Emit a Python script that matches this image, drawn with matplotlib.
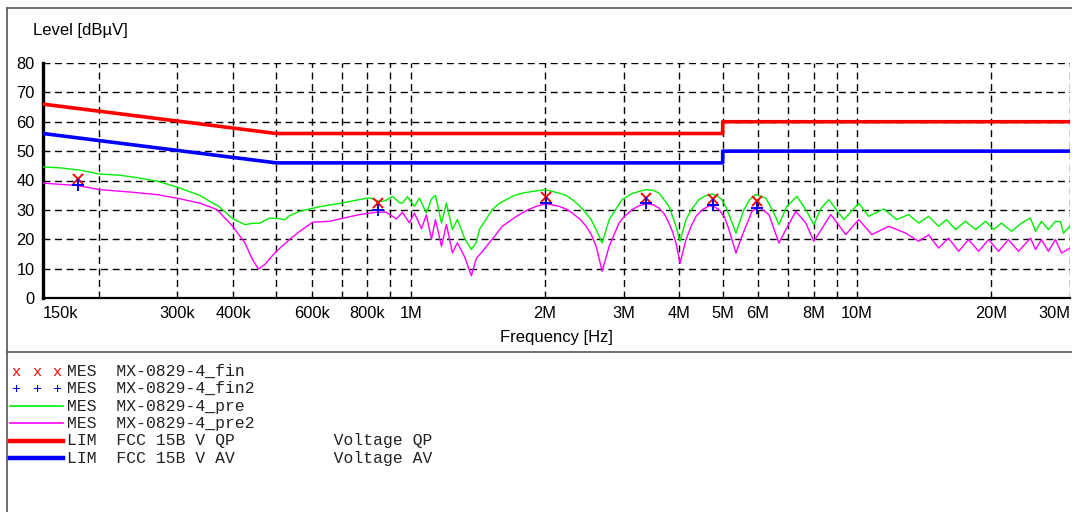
import numpy as np
import matplotlib
matplotlib.use("Agg")
import matplotlib.pyplot as plt
from matplotlib.lines import Line2D

# Data (frequency in MHz, level in dBuV)
pre_f = [0.150, 0.164, 0.182, 0.201, 0.223, 0.243, 0.270, 0.299, 0.337, 0.373,
         0.399, 0.425, 0.442, 0.459, 0.483, 0.509, 0.522, 0.535, 0.564, 0.625,
         0.693, 0.768, 0.808, 0.851, 0.873, 0.910, 0.943, 0.958, 0.983, 1.019,
         1.046, 1.084, 1.113, 1.136, 1.172, 1.202, 1.240, 1.272, 1.319, 1.367,
         1.403, 1.425, 1.523, 1.58, 1.637, 1.70, 1.778, 1.88, 2.002, 2.151,
         2.23, 2.301, 2.38, 2.472, 2.54, 2.603, 2.684, 2.784, 2.976, 3.134,
         3.367, 3.5, 3.601, 3.791, 3.930, 4.012, 4.138, 4.25, 4.425, 4.58,
         4.733, 4.86, 4.982, 5.10, 5.218, 5.354, 5.578, 5.75, 5.934, 6.249,
         6.513, 6.683, 6.963, 7.331, 7.679, 8.002, 8.30, 8.643, 9.341, 10.09,
         10.62, 11.48, 12.27, 13.05, 13.74, 14.47, 15.23, 15.87, 16.62, 17.50,
         18.43, 19.41, 20.23, 21.07, 22.18, 23.36, 24.47, 25.11, 25.89, 26.84,
         27.83, 28.56, 29.01, 30.0]
pre_db = [44.6, 44.3, 43.5, 42.2, 41.8, 41.0, 39.8, 37.8, 34.9, 31.0,
          27.0, 25.0, 25.4, 25.5, 27.2, 27.0, 26.6, 28.0, 29.5, 31.1,
          32.2, 33.5, 34.1, 32.9, 33.0, 34.6, 32.5, 32.3, 34.5, 31.2,
          34.0, 28.9, 33.7, 35.0, 25.5, 32.3, 23.3, 26.7, 20.5, 16.5,
          19.0, 23.3, 30.1, 32.2, 33.5, 34.8, 35.7, 36.3, 36.9, 35.7,
          34.9, 33.5, 31.6, 28.9, 26.5, 23.3, 18.7, 26.7, 33.5, 35.6,
          36.9, 36.6, 35.7, 31.2, 24.4, 19.3, 26.7, 30.0, 33.5, 34.8,
          35.4, 34.8, 33.5, 30.5, 26.7, 22.1, 30.1, 33.5, 35.2, 34.0,
          28.9, 25.0, 31.2, 34.6, 30.0, 25.0, 30.5, 33.5, 26.7, 32.3,
          27.8, 30.3, 26.7, 28.4, 25.5, 27.8, 24.4, 26.7, 23.3, 26.1,
          23.3, 26.1, 23.3, 25.5, 22.7, 25.5, 27.2, 22.7, 26.1, 23.3,
          26.1, 26.0, 22.1, 24.4]

pre2_f = [0.150, 0.179, 0.201, 0.238, 0.270, 0.299, 0.337, 0.368, 0.399, 0.425,
          0.442, 0.456, 0.471, 0.496, 0.535, 0.564, 0.603, 0.658, 0.693, 0.768,
          0.838, 0.882, 0.929, 0.958, 0.993, 1.019, 1.057, 1.084, 1.113, 1.136,
          1.172, 1.202, 1.240, 1.272, 1.319, 1.367, 1.403, 1.450, 1.500, 1.55,
          1.604, 1.68, 1.751, 1.83, 1.911, 2.012, 2.151, 2.23, 2.301, 2.40,
          2.472, 2.54, 2.603, 2.684, 2.784, 2.931, 3.0, 3.134, 3.25, 3.367,
          3.5, 3.601, 3.70, 3.791, 3.86, 3.930, 4.012, 4.138, 4.25, 4.358,
          4.5, 4.660, 4.78, 4.906, 5.05, 5.164, 5.354, 5.521, 5.814, 6.027,
          6.347, 6.683, 6.927, 7.293, 7.679, 8.002, 8.733, 9.437, 10.09, 10.79,
          11.78, 12.85, 13.74, 14.47, 15.23, 16.03, 16.89, 17.78, 18.72, 19.71,
          20.75, 21.84, 23.00, 24.47, 25.11, 25.89, 26.84, 27.83, 28.71, 30.0]
pre2_db = [39.1, 38.3, 36.9, 36.0, 35.2, 34.0, 32.3, 30.1, 24.4, 18.8,
           13.1, 9.9, 11.4, 15.4, 19.9, 22.7, 25.8, 26.1, 26.9, 28.4,
           29.2, 29.2, 26.9, 29.2, 25.6, 28.9, 23.6, 28.3, 20.0, 26.7,
           17.6, 25.0, 15.4, 18.8, 14.2, 7.6, 13.5, 16.0, 18.8, 21.5,
           24.4, 26.6, 28.4, 30.0, 31.2, 32.1, 31.2, 30.3, 28.9, 26.7,
           24.4, 21.5, 17.6, 9.1, 17.6, 25.6, 27.5, 30.1, 31.4, 32.1,
           31.7, 30.6, 28.6, 25.5, 22.5, 18.7, 11.9, 19.9, 24.5, 27.8,
           30.0, 31.4, 31.1, 30.1, 27.5, 23.3, 15.3, 21.0, 29.5, 31.0,
           28.4, 18.7, 23.3, 29.5, 25.5, 19.3, 28.4, 21.6, 26.7, 21.6,
           24.4, 22.1, 19.3, 21.5, 17.0, 20.4, 15.9, 19.9, 15.9, 19.9,
           15.9, 19.9, 15.9, 20.4, 16.5, 19.9, 15.9, 19.9, 15.3, 17.0]

fin_f = [0.180, 0.845, 2.01, 3.37, 4.75, 5.97]
fin_db = [40.5, 32.2, 34.3, 34.1, 33.6, 33.0]
fin2_f = [0.180, 0.845, 2.01, 3.37, 4.75, 5.97]
fin2_db = [38.3, 29.8, 32.4, 32.4, 31.6, 30.7]

qp_f = [0.15, 0.5, 5.0, 5.0, 30.0]
qp_db = [66, 56, 56, 60, 60]
av_f = [0.15, 0.5, 5.0, 5.0, 30.0]
av_db = [56, 46, 46, 50, 50]

grid_f = [0.2, 0.3, 0.4, 0.5, 0.6, 0.7, 0.8, 0.9, 1, 2, 3, 4, 5, 6, 7, 8, 9, 10, 20, 30]
label_f = [0.15, 0.3, 0.4, 0.6, 0.8, 1, 2, 3, 4, 5, 6, 8, 10, 20, 30]
label_txt = ["150k", "300k", "400k", "600k", "800k", "1M", "2M", "3M", "4M",
             "5M", "6M", "8M", "10M", "20M", "30M"]

legend_rows = [
    ("MES  MX-0829-4_fin", "x", "red"),
    ("MES  MX-0829-4_fin2", "+", "blue"),
    ("MES  MX-0829-4_pre", "line", "#00f000"),
    ("MES  MX-0829-4_pre2", "line", "#ff00ff"),
    ("LIM  FCC 15B V QP          Voltage QP", "thick", "red"),
    ("LIM  FCC 15B V AV          Voltage AV", "thick", "blue"),
]

plt.rcParams['font.family'] = ['Liberation Sans', 'DejaVu Sans']

W, H = 1072, 512
fig = plt.figure(figsize=(W / 100, H / 100), dpi=100)
ax = fig.add_axes([43 / W, 1 - 298 / H, (1070 - 43) / W, (298 - 63) / H])

mhz = 1e6
ax.plot(np.array(pre_f) * mhz, pre_db, color="#00f000", lw=1.0, zorder=3)
ax.plot(np.array(pre2_f) * mhz, pre2_db, color="#ff00ff", lw=1.0, zorder=3)
ax.plot(np.array(qp_f) * mhz, qp_db, color="red", lw=2.6, zorder=4)
ax.plot(np.array(av_f) * mhz, av_db, color="blue", lw=2.6, zorder=4)
ax.plot(np.array(fin_f) * mhz, fin_db, ls="none", marker="x", ms=7, mew=1.4,
        color="red", zorder=5)
ax.plot(np.array(fin2_f) * mhz, fin2_db, ls="none", marker="+", ms=8, mew=1.4,
        color="blue", zorder=5)

ax.set_xscale("log")
ax.set_xlim(0.15 * mhz, 30 * mhz)
ax.set_ylim(0, 80)

# dashed grid drawn by hand so it can differ from the tick positions
dash = (0, (5, 3.3))
for f in grid_f:
    ax.axvline(f * mhz, color="black", lw=1.0, ls=dash, zorder=1)
for v in range(10, 81, 10):
    ax.axhline(v, color="black", lw=1.0, ls=dash, zorder=1)

ax.xaxis.set_minor_locator(matplotlib.ticker.NullLocator())
ax.set_xticks([f * mhz for f in label_f])
ax.set_xticklabels(label_txt, fontsize=11.8)
xt = ax.get_xticklabels()
xt[0].set_ha("left")
xt[-1].set_ha("right")
ax.set_yticks(range(0, 81, 10))
ax.set_yticklabels([str(v) for v in range(0, 81, 10)], fontsize=11.8)
ax.tick_params(axis="both", length=0, pad=6)

for s in ["top", "right"]:
    ax.spines[s].set_visible(False)
ax.spines["left"].set_linewidth(2.4)
ax.spines["bottom"].set_linewidth(1.6)

ax.set_xlabel("Frequency [Hz]", fontsize=12, labelpad=6)
fig.text(33 / W, 1 - 31 / H, "Level [dBµV]", fontsize=12, va="center", ha="left")

# frame around the report and divider to the legend area
frame_col = "#555555"
fig.add_artist(Line2D([7 / W, 7 / W], [0, 1 - 8 / H], color=frame_col, lw=1.2))
fig.add_artist(Line2D([7 / W, 1], [1 - 8 / H, 1 - 8 / H], color=frame_col, lw=1.2))
fig.add_artist(Line2D([7 / W, 1], [1 - 352 / H, 1 - 352 / H], color=frame_col, lw=1.2))

# legend block
row_y0 = 371.5
row_dy = 17.3
for i, (txt, kind, col) in enumerate(legend_rows):
    yp = 1 - (row_y0 + i * row_dy) / H
    if kind in ("x", "+"):
        for xp in (16, 37, 57):
            fig.text(xp / W, yp, kind, color=col, fontsize=11,
                     family="Liberation Mono", ha="center", va="center")
    else:
        lw = 1.2 if kind == "line" else 3.2
        fig.add_artist(Line2D([10 / W, 63 / W], [yp, yp], color=col, lw=lw))
    fig.text(67 / W, yp, txt, fontsize=11.8, family="Liberation Mono",
             ha="left", va="center", color="#222222")

fig.savefig("out.png", dpi=100)
